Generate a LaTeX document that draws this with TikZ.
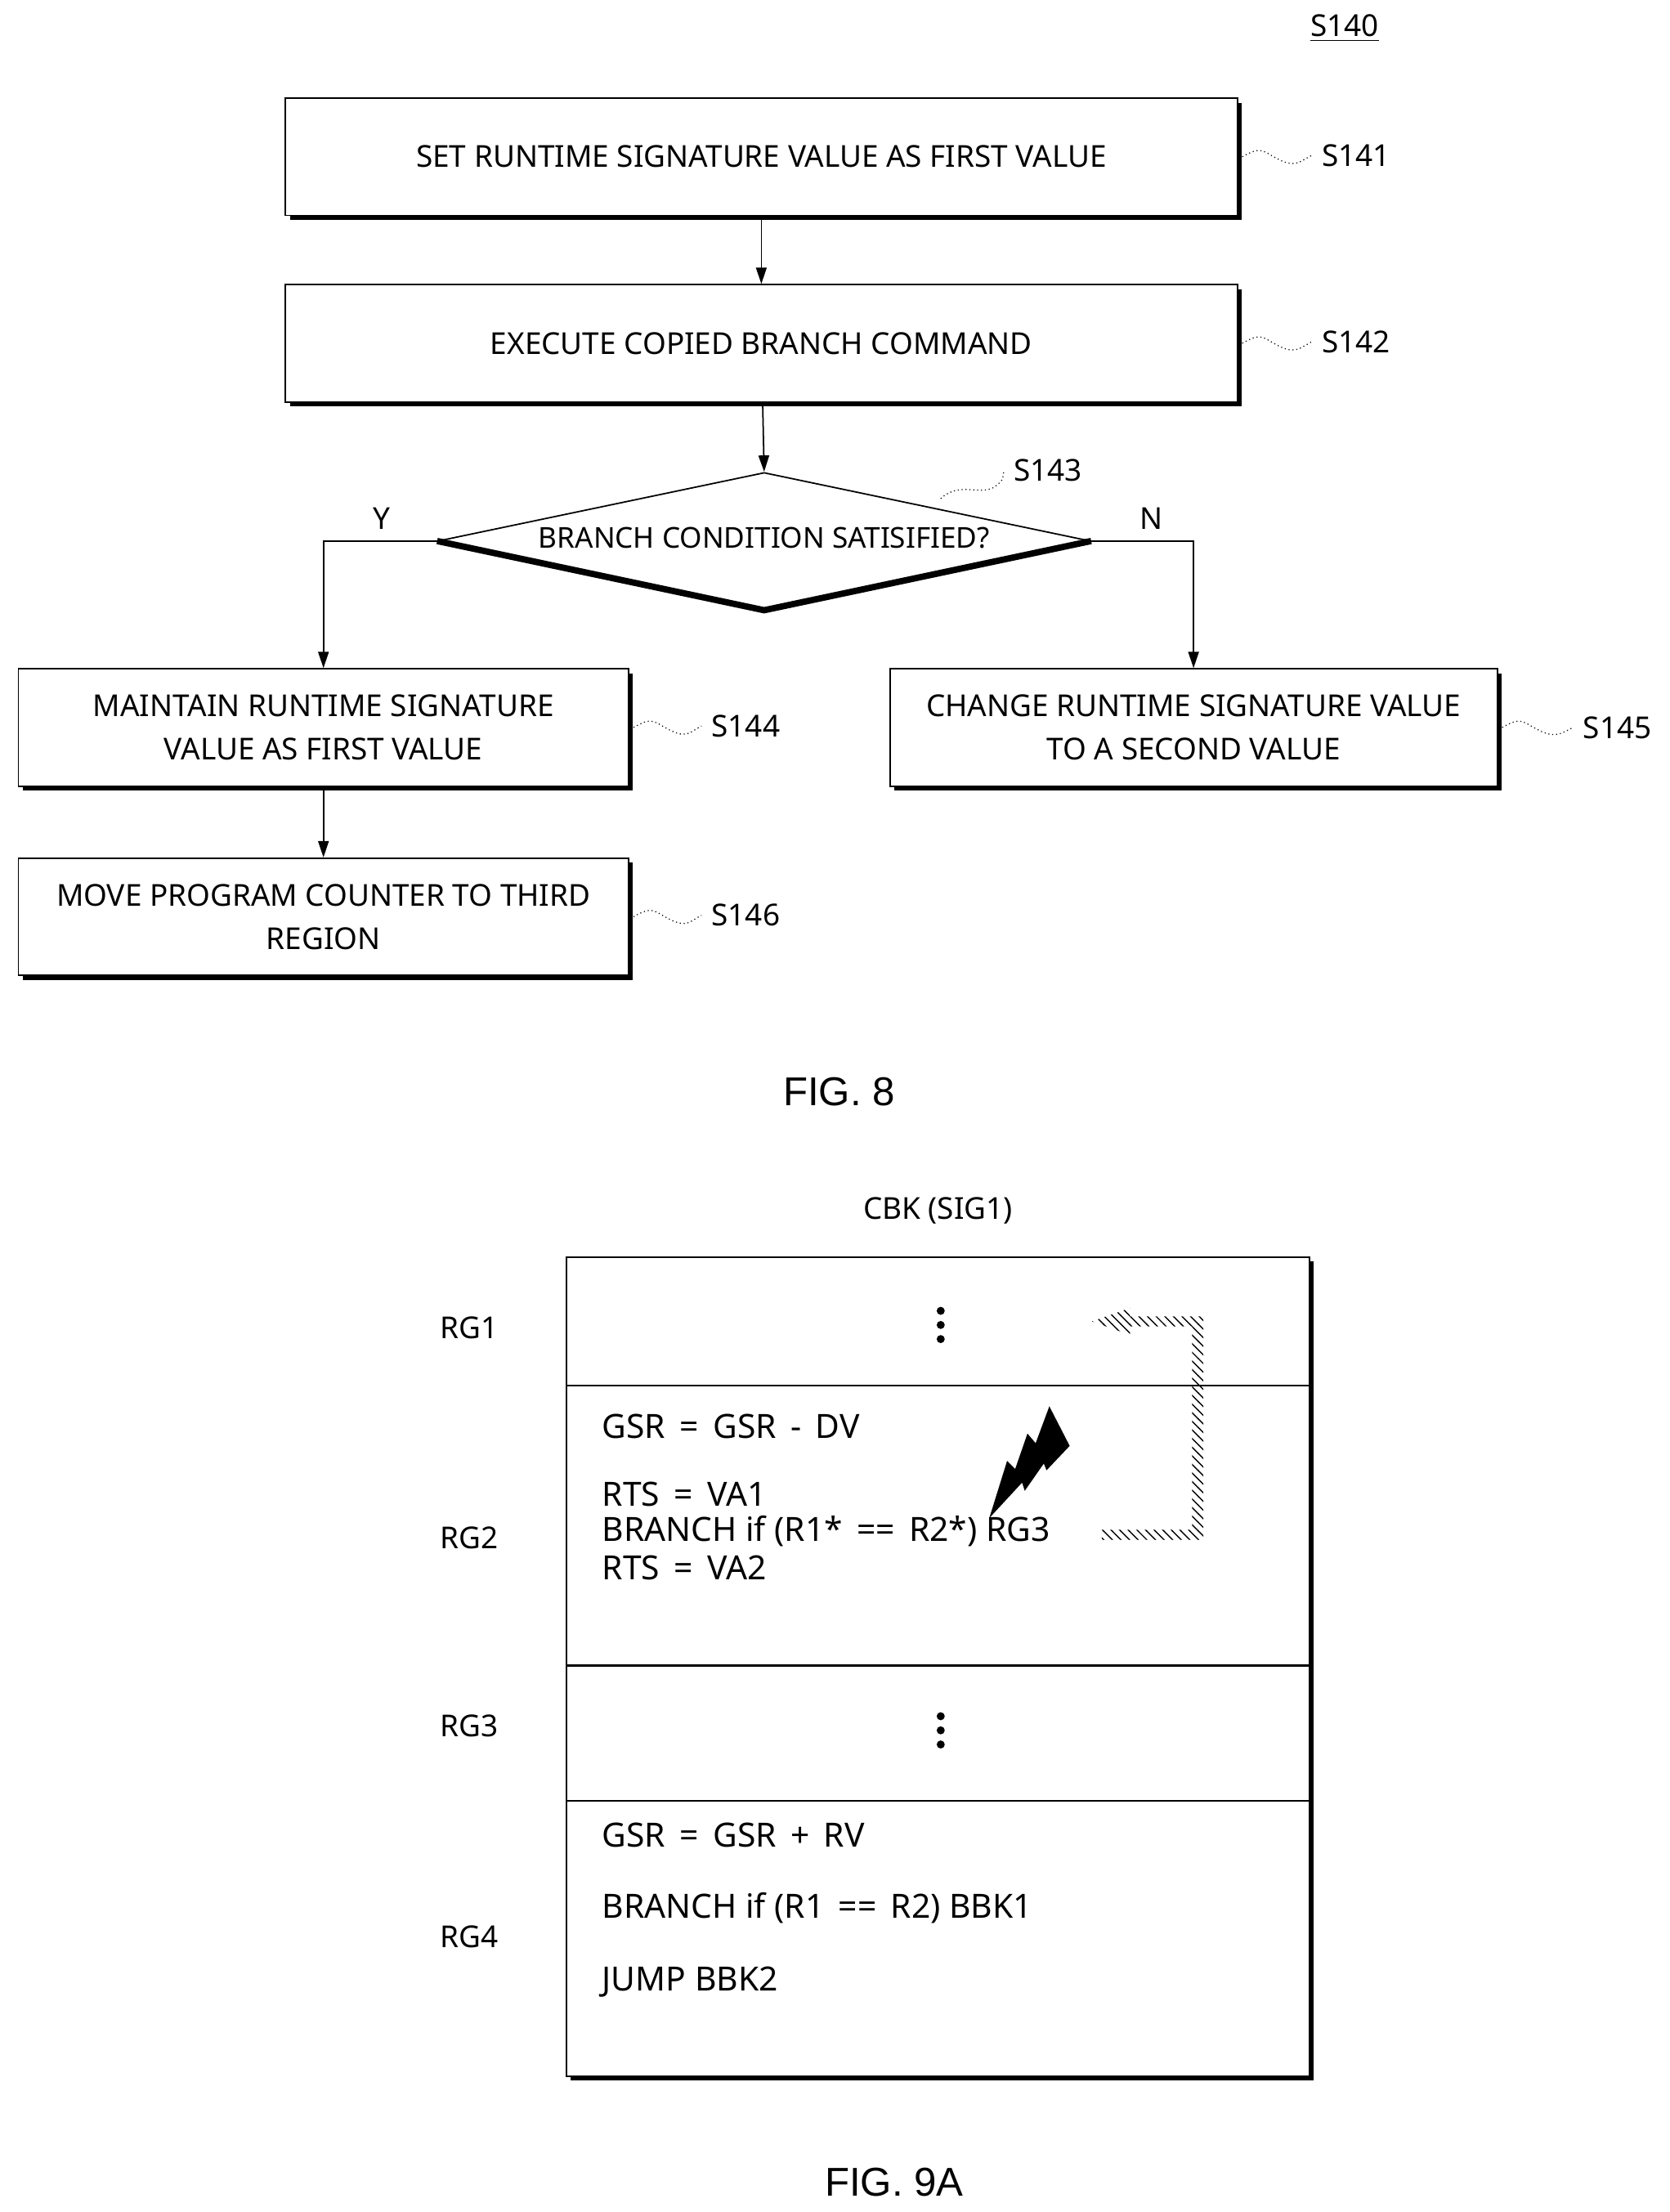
\documentclass[tikz,border=0pt]{standalone}
\usepackage{fontspec}
\setmainfont{Noto Sans}
\newfontfamily\figfont{Liberation Sans}
\usetikzlibrary{shapes.geometric,arrows.meta,shadows,patterns}
\begin{document}
\begin{tikzpicture}[x=0.17276mm,y=-0.17276mm,
  box/.style={draw,line width=0.5pt,fill=white,align=center,font=\fontsize{10.5}{15}\selectfont,
    drop shadow={shadow xshift=0.55mm,shadow yshift=-0.55mm,fill=black,opacity=1}},
  arr/.style={-{Triangle[length=2mm,width=1.3mm]},line width=0.5pt},
  lab/.style={font=\fontsize{10.5}{12}\selectfont},
  sq/.style={line width=0.35pt,densely dotted},
  code/.style={anchor=west,font=\fontsize{11.6}{13}\selectfont,inner sep=0},
  rg/.style={font=\fontsize{10.5}{12}\selectfont}]
\useasboundingbox (0,0) rectangle (1182,1566);
% FIG 8
\node[lab] (s140) at (952,20) {\underline{S140}};
\node[box,minimum width=674*0.17276mm,minimum height=83*0.17276mm] (b141) at (539,111) {SET RUNTIME SIGNATURE VALUE AS FIRST VALUE};
\node[box,minimum width=674*0.17276mm,minimum height=83*0.17276mm] (b142) at (539,243) {EXECUTE COPIED BRANCH COMMAND};
\node[draw,diamond,line width=0.5pt,minimum width=462*0.17276mm,minimum height=97*0.17276mm,inner sep=0] (d) at (541,383) {};
\node[font=\fontsize{10}{11}\selectfont] (dt) at (541,381) {BRANCH CONDITION SATISIFIED?};
\draw[line width=2.2pt] (d.west) -- (d.south) -- (d.east);
\node[box,minimum width=432*0.17276mm,minimum height=83*0.17276mm] (b144) at (229,515) {MAINTAIN RUNTIME SIGNATURE\\VALUE AS FIRST VALUE};
\node[box,minimum width=430*0.17276mm,minimum height=83*0.17276mm] (b145) at (845,515) {CHANGE RUNTIME SIGNATURE VALUE\\TO A SECOND VALUE};
\node[box,minimum width=432*0.17276mm,minimum height=83*0.17276mm] (b146) at (229,649) {MOVE PROGRAM COUNTER TO THIRD\\REGION};
\draw[arr] (b141) -- (b142);
\draw[arr] (b142) -- (d.north);
\draw[arr] (d.west) -| (b144.north);
\draw[arr] (d.east) -| (b145.north);
\draw[arr] (b144) -- (b146);
\node[lab] (y) at (270,367) {Y};
\node[lab] (n) at (815,367) {N};
% step labels
\node[lab] (l141) at (960,110) {S141};
\node[lab] (l142) at (960,242) {S142};
\node[lab] (l143) at (742,333) {S143};
\node[lab] (l144) at (528,514) {S144};
\node[lab] (l145) at (1145,515) {S145};
\node[lab] (l146) at (528,648) {S146};
\foreach \b/\l in {b141/l141,b142/l142,b144/l144,b145/l145,b146/l146}{
  \draw[sq] (\b.east) ++(3,0) .. controls +(14,-8) and +(-12,-6) .. ++(26,2) .. controls +(12,6) and +(-8,4) .. (\l.west);}
\draw[sq] (666,353) .. controls (680,340) and (695,352) .. (705,344) .. controls (710,340) .. (l143.west);
\node[font=\figfont\fontsize{14}{16}\selectfont] (f8) at (594,773) {FIG. 8};
% FIG 9A
\node[font=\fontsize{10.5}{12}\selectfont] (cbk) at (664,857) {CBK (SIG1)};
\node[draw,line width=0.7pt,fill=white,minimum width=526*0.17276mm,minimum height=580*0.17276mm,
  drop shadow={shadow xshift=0.5mm,shadow yshift=-0.5mm,fill=black,opacity=1}] (big) at (664,1180) {};
\draw[line width=0.7pt] (401,981) -- (927,981) (401,1179) -- (927,1179) (401,1275) -- (927,1275);
\node[rg] (rg1) at (332,940) {RG1};
\node[rg] (rg2) at (332,1089) {RG2};
\node[rg] (rg3) at (332,1222) {RG3};
\node[rg] (rg4) at (332,1371) {RG4};
\foreach \yy in {938,1225}{\fill (666,\yy-10) circle (1.4pt) (666,\yy) circle (1.4pt) (666,\yy+10) circle (1.4pt);}
\node[code] (c1) at (426,1010) {GSR \,=\, GSR \,-\, DV};
\node[code] (c2) at (426,1058) {RTS \,=\, VA1};
\node[code] (c3) at (426,1084) {BRANCH if (R1* \,==\, R2*) RG3};
\node[code] (c4) at (426,1110) {RTS \,=\, VA2};
\node[code] (c5) at (426,1299) {GSR \,=\, GSR \,+\, RV};
\node[code] (c6) at (426,1351) {BRANCH if (R1 \,==\, R2) BBK1};
\node[code] (c7) at (426,1403) {JUMP BBK2};
% lightning
\fill (700.4,1074.7) -- (713,1034.2) -- (718.7,1040) -- (727.4,1014.9) -- (733.2,1021.7) -- (742.9,995.6) -- (757.3,1023.6) -- (740.9,1040.9) -- (739,1036.1) -- (725.5,1055.4) -- (723.6,1049.6) -- cycle;
% hatched arrow
\path[pattern=north west lines] (780,1090) -- (852,1090) -- (852,932) -- (800,932) -- (800,926) -- (773,935.5) -- (800,945) -- (800,939) -- (844,939) -- (844,1083) -- (780,1083) -- cycle;
\node[font=\figfont\fontsize{14}{16}\selectfont] (f9) at (633,1545) {FIG. 9A};
\end{tikzpicture}
\end{document}
